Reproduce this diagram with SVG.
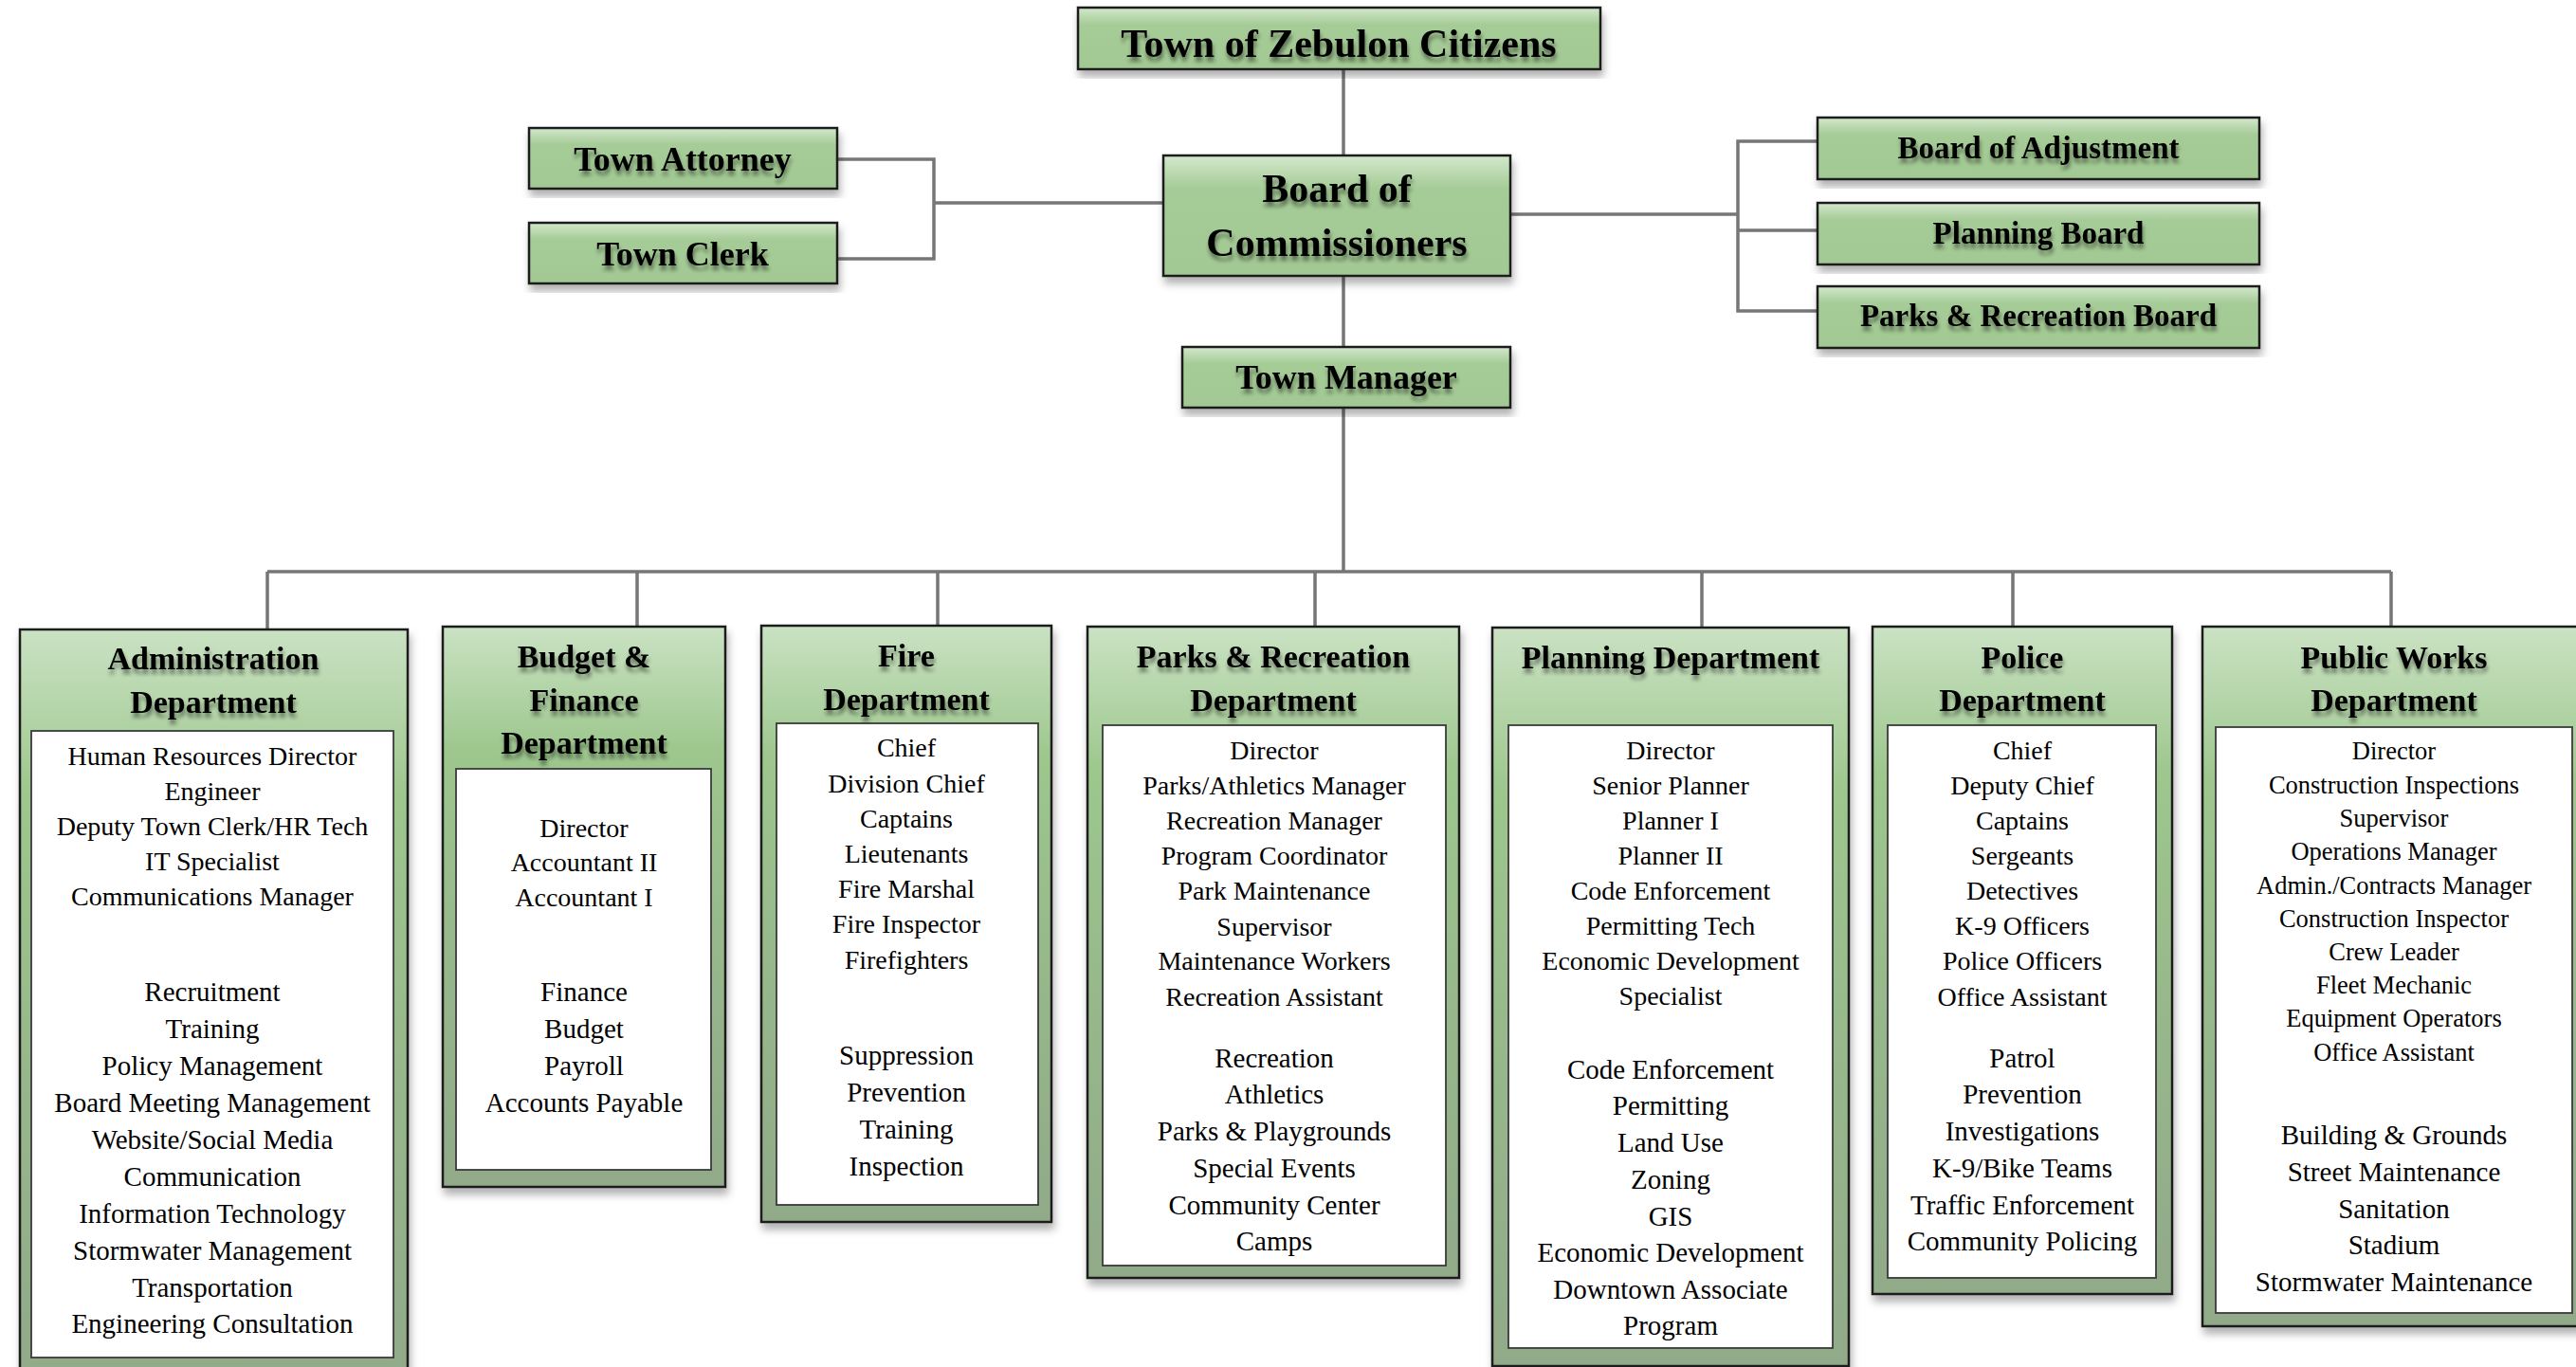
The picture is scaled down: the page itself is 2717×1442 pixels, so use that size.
<svg xmlns="http://www.w3.org/2000/svg" width="2717" height="1442" viewBox="0 0 2717 1442">
<defs>
<linearGradient id="gTop" x1="0" y1="0" x2="0" y2="1">
<stop offset="0" stop-color="#d3e8cc"/>
<stop offset="0.28" stop-color="#a5cb96"/>
<stop offset="1" stop-color="#a2c993"/>
</linearGradient>
<linearGradient id="gDept" x1="0" y1="0" x2="0" y2="1">
<stop offset="0" stop-color="#cae2c3"/>
<stop offset="0.22" stop-color="#9dc78d"/>
<stop offset="0.55" stop-color="#97b98b"/>
<stop offset="1" stop-color="#91aa89"/>
</linearGradient>
<filter id="boxShadow" x="-5%" y="-5%" width="112%" height="120%">
<feDropShadow dx="2" dy="7" stdDeviation="4" flood-color="#000" flood-opacity="0.3"/>
</filter>
<filter id="txtShadow" x="-5%" y="-20%" width="110%" height="160%">
<feGaussianBlur in="SourceAlpha" stdDeviation="2.2"/>
<feOffset dx="1" dy="5" result="b"/>
<feComponentTransfer><feFuncA type="linear" slope="0.45"/></feComponentTransfer>
<feMerge><feMergeNode/><feMergeNode in="SourceGraphic"/></feMerge>
</filter>
</defs>
<style>
.top{fill:url(#gTop);stroke:#1c1c1c;stroke-width:2.5;filter:url(#boxShadow)}
.dept{fill:url(#gDept);stroke:#1c1c1c;stroke-width:2.5;filter:url(#boxShadow)}
.inner{fill:#fff;stroke:#3a3a3a;stroke-width:1.8}
.t{font-family:"Liberation Serif","Times New Roman",serif;font-weight:bold;fill:#000;text-anchor:middle;filter:url(#txtShadow)}
.h{font-family:"Liberation Serif","Times New Roman",serif;font-weight:bold;font-size:34px;fill:#000;text-anchor:middle;filter:url(#txtShadow)}
.b{font-family:"Liberation Serif","Times New Roman",serif;font-size:28px;fill:#000;text-anchor:middle}
.b2{font-family:"Liberation Serif","Times New Roman",serif;font-size:29px;fill:#000;text-anchor:middle}
.pw{font-family:"Liberation Serif","Times New Roman",serif;font-size:26.5px;fill:#000;text-anchor:middle}
.conn{fill:none;stroke:#767676;stroke-width:3.5}
</style>
<rect width="2717" height="1442" fill="#fff"/>

<g id="connectors">
<path class="conn" d="M1417 73 V164 M1417 291 V366 M1417 430 V603"/>
<path class="conn" d="M282 603 H2522"/>
<path class="conn" d="M282 603 V663 M672 603 V661 M989 603 V660 M1387 603 V661 M1795 603 V662 M2123 603 V661 M2522 603 V661"/>
<path class="conn" d="M883 168 H985 V273 H883 M985 214 H1227"/>
<path class="conn" d="M1593 226 H1833 M1917 149 H1833 V328 H1917 M1833 243 H1917"/>
</g>

<g id="citizens">
<rect class="top" x="1137" y="8" width="551" height="65"/>
<text class="t" x="1412" y="60" font-size="42">Town of Zebulon Citizens</text>
</g>
<g id="board-of-commissioners">
<rect class="top" x="1227" y="164" width="366" height="127"/>
<text class="t" x="1410" y="213" font-size="42">Board of</text>
<text class="t" x="1410" y="270" font-size="42">Commissioners</text>
</g>
<g id="town-manager">
<rect class="top" x="1247" y="366" width="346" height="64"/>
<text class="t" x="1420" y="410" font-size="36">Town Manager</text>
</g>
<g id="town-attorney">
<rect class="top" x="558" y="135" width="325" height="64"/>
<text class="t" x="720" y="180" font-size="36">Town Attorney</text>
</g>
<g id="town-clerk">
<rect class="top" x="558" y="235" width="325" height="64"/>
<text class="t" x="720" y="280" font-size="36">Town Clerk</text>
</g>
<g id="board-of-adjustment">
<rect class="top" x="1917" y="124" width="466" height="65"/>
<text class="t" x="2150" y="167" font-size="33">Board of Adjustment</text>
</g>
<g id="planning-board">
<rect class="top" x="1917" y="214" width="466" height="65"/>
<text class="t" x="2150" y="257" font-size="33">Planning Board</text>
</g>
<g id="parks-recreation-board">
<rect class="top" x="1917" y="302" width="466" height="65"/>
<text class="t" x="2150" y="344" font-size="33">Parks &amp; Recreation Board</text>
</g>

<g id="administration">
<rect class="dept" x="21" y="664" width="409" height="790"/>
<rect class="inner" x="33" y="771" width="382" height="661"/>
<text class="h" x="225" y="706">Administration</text>
<text class="h" x="225" y="752">Department</text>
<text class="b" x="224" y="807">Human Resources Director</text>
<text class="b" x="224" y="844">Engineer</text>
<text class="b" x="224" y="881">Deputy Town Clerk/HR Tech</text>
<text class="b" x="224" y="918">IT Specialist</text>
<text class="b" x="224" y="955">Communications Manager</text>
<text class="b2" x="224" y="1056">Recruitment</text>
<text class="b2" x="224" y="1095">Training</text>
<text class="b2" x="224" y="1134">Policy Management</text>
<text class="b2" x="224" y="1173">Board Meeting Management</text>
<text class="b2" x="224" y="1212">Website/Social Media</text>
<text class="b2" x="224" y="1251">Communication</text>
<text class="b2" x="224" y="1290">Information Technology</text>
<text class="b2" x="224" y="1329">Stormwater Management</text>
<text class="b2" x="224" y="1368">Transportation</text>
<text class="b2" x="224" y="1406">Engineering Consultation</text>
</g>

<g id="budget-finance">
<rect class="dept" x="467" y="661" width="298" height="591"/>
<rect class="inner" x="481" y="811" width="269" height="423"/>
<text class="h" x="616" y="704">Budget &amp;</text>
<text class="h" x="616" y="750">Finance</text>
<text class="h" x="616" y="795">Department</text>
<text class="b" x="616" y="883">Director</text>
<text class="b" x="616" y="919">Accountant II</text>
<text class="b" x="616" y="956">Accountant I</text>
<text class="b2" x="616" y="1056">Finance</text>
<text class="b2" x="616" y="1095">Budget</text>
<text class="b2" x="616" y="1134">Payroll</text>
<text class="b2" x="616" y="1173">Accounts Payable</text>
</g>

<g id="fire">
<rect class="dept" x="803" y="660" width="306" height="629"/>
<rect class="inner" x="819" y="763" width="276" height="508"/>
<text class="h" x="956" y="703">Fire</text>
<text class="h" x="956" y="749">Department</text>
<text class="b" x="956" y="798">Chief</text>
<text class="b" x="956" y="836">Division Chief</text>
<text class="b" x="956" y="873">Captains</text>
<text class="b" x="956" y="910">Lieutenants</text>
<text class="b" x="956" y="947">Fire Marshal</text>
<text class="b" x="956" y="984">Fire Inspector</text>
<text class="b" x="956" y="1022">Firefighters</text>
<text class="b2" x="956" y="1123">Suppression</text>
<text class="b2" x="956" y="1162">Prevention</text>
<text class="b2" x="956" y="1201">Training</text>
<text class="b2" x="956" y="1240">Inspection</text>
</g>

<g id="parks-recreation">
<rect class="dept" x="1147" y="661" width="392" height="687"/>
<rect class="inner" x="1163" y="765" width="362" height="570"/>
<text class="h" x="1343" y="704">Parks &amp; Recreation</text>
<text class="h" x="1343" y="750">Department</text>
<text class="b" x="1344" y="801">Director</text>
<text class="b" x="1344" y="838">Parks/Athletics Manager</text>
<text class="b" x="1344" y="875">Recreation Manager</text>
<text class="b" x="1344" y="912">Program Coordinator</text>
<text class="b" x="1344" y="949">Park Maintenance</text>
<text class="b" x="1344" y="987">Supervisor</text>
<text class="b" x="1344" y="1023">Maintenance Workers</text>
<text class="b" x="1344" y="1061">Recreation Assistant</text>
<text class="b2" x="1344" y="1126">Recreation</text>
<text class="b2" x="1344" y="1164">Athletics</text>
<text class="b2" x="1344" y="1203">Parks &amp; Playgrounds</text>
<text class="b2" x="1344" y="1242">Special Events</text>
<text class="b2" x="1344" y="1281">Community Center</text>
<text class="b2" x="1344" y="1319">Camps</text>
</g>

<g id="planning">
<rect class="dept" x="1574" y="662" width="376" height="779"/>
<rect class="inner" x="1591" y="765" width="342" height="657"/>
<text class="h" x="1762" y="705">Planning Department</text>
<text class="b" x="1762" y="801">Director</text>
<text class="b" x="1762" y="838">Senior Planner</text>
<text class="b" x="1762" y="875">Planner I</text>
<text class="b" x="1762" y="912">Planner II</text>
<text class="b" x="1762" y="949">Code Enforcement</text>
<text class="b" x="1762" y="986">Permitting Tech</text>
<text class="b" x="1762" y="1023">Economic Development</text>
<text class="b" x="1762" y="1060">Specialist</text>
<text class="b2" x="1762" y="1138">Code Enforcement</text>
<text class="b2" x="1762" y="1176">Permitting</text>
<text class="b2" x="1762" y="1215">Land Use</text>
<text class="b2" x="1762" y="1254">Zoning</text>
<text class="b2" x="1762" y="1293">GIS</text>
<text class="b2" x="1762" y="1331">Economic Development</text>
<text class="b2" x="1762" y="1370">Downtown Associate</text>
<text class="b2" x="1762" y="1408">Program</text>
</g>

<g id="police">
<rect class="dept" x="1975" y="661" width="316" height="704"/>
<rect class="inner" x="1991" y="765" width="283" height="583"/>
<text class="h" x="2133" y="705">Police</text>
<text class="h" x="2133" y="750">Department</text>
<text class="b" x="2133" y="801">Chief</text>
<text class="b" x="2133" y="838">Deputy Chief</text>
<text class="b" x="2133" y="875">Captains</text>
<text class="b" x="2133" y="912">Sergeants</text>
<text class="b" x="2133" y="949">Detectives</text>
<text class="b" x="2133" y="986">K-9 Officers</text>
<text class="b" x="2133" y="1023">Police Officers</text>
<text class="b" x="2133" y="1061">Office Assistant</text>
<text class="b2" x="2133" y="1126">Patrol</text>
<text class="b2" x="2133" y="1164">Prevention</text>
<text class="b2" x="2133" y="1203">Investigations</text>
<text class="b2" x="2133" y="1242">K-9/Bike Teams</text>
<text class="b2" x="2133" y="1281">Traffic Enforcement</text>
<text class="b2" x="2133" y="1319">Community Policing</text>
</g>

<g id="public-works">
<rect class="dept" x="2323" y="661" width="400" height="738"/>
<rect class="inner" x="2337" y="767" width="376" height="618"/>
<text class="h" x="2525" y="705">Public Works</text>
<text class="h" x="2525" y="750">Department</text>
<text class="pw" x="2525" y="801">Director</text>
<text class="pw" x="2525" y="837">Construction Inspections</text>
<text class="pw" x="2525" y="872">Supervisor</text>
<text class="pw" x="2525" y="907">Operations Manager</text>
<text class="pw" x="2525" y="943">Admin./Contracts Manager</text>
<text class="pw" x="2525" y="978">Construction Inspector</text>
<text class="pw" x="2525" y="1013">Crew Leader</text>
<text class="pw" x="2525" y="1048">Fleet Mechanic</text>
<text class="pw" x="2525" y="1083">Equipment Operators</text>
<text class="pw" x="2525" y="1119">Office Assistant</text>
<text class="b2" x="2525" y="1207">Building &amp; Grounds</text>
<text class="b2" x="2525" y="1246">Street Maintenance</text>
<text class="b2" x="2525" y="1285">Sanitation</text>
<text class="b2" x="2525" y="1323">Stadium</text>
<text class="b2" x="2525" y="1362">Stormwater Maintenance</text>
</g>
</svg>
